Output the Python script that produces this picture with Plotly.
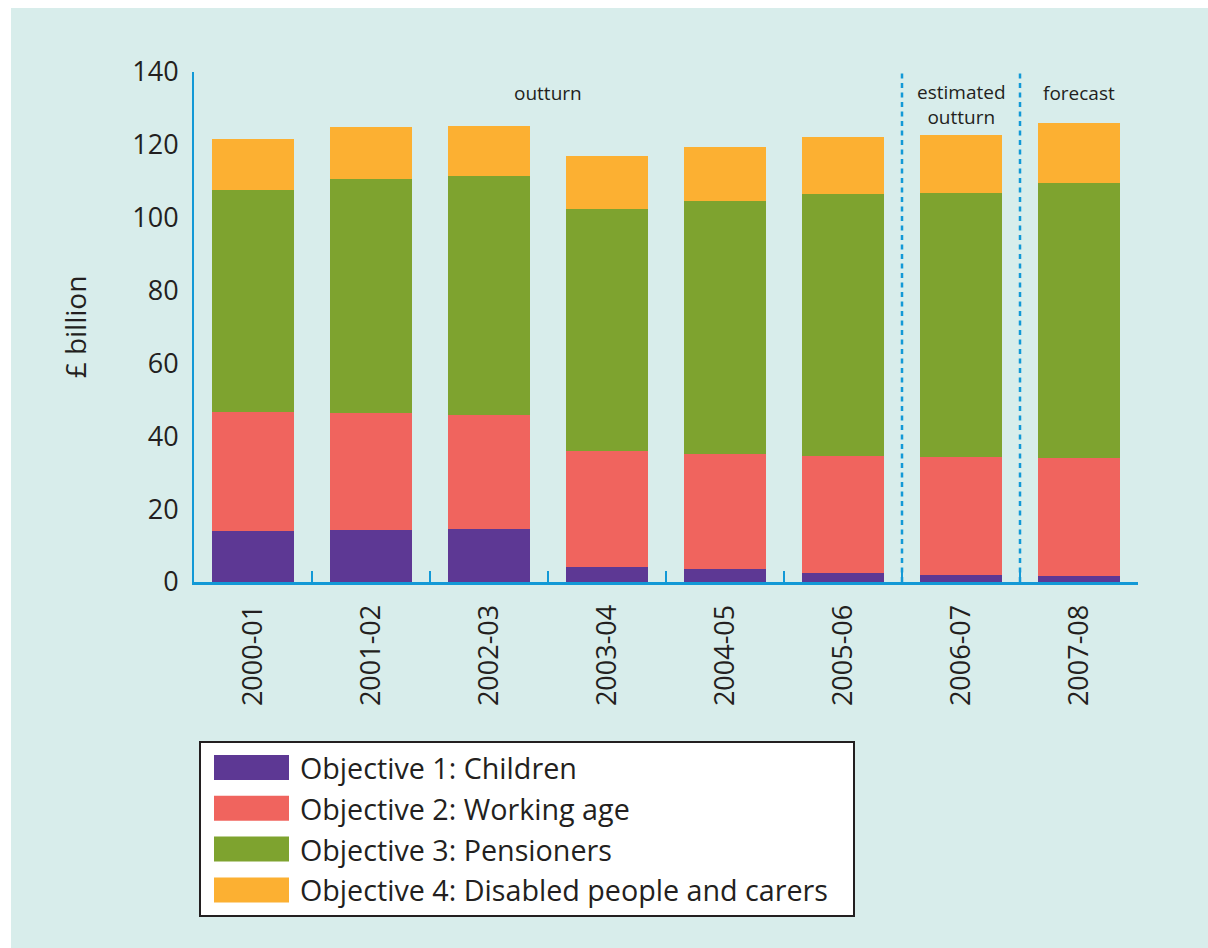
import plotly.graph_objects as go

# ---- data ----
years = ["2000-01", "2001-02", "2002-03", "2003-04", "2004-05", "2005-06", "2006-07", "2007-08"]
children = [14.0, 14.3, 14.5, 4.1, 3.6, 2.5, 1.9, 1.6]
working_age = [32.7, 32.2, 31.4, 31.9, 31.5, 32.1, 32.5, 32.4]
pensioners = [60.9, 64.1, 65.5, 66.4, 69.5, 71.9, 72.4, 75.5]
disabled = [14.0, 14.3, 13.8, 14.5, 14.8, 15.7, 15.9, 16.5]

series_names = [
    "Objective 1: Children",
    "Objective 2: Working age",
    "Objective 3: Pensioners",
    "Objective 4: Disabled people and carers",
]
series_values = [children, working_age, pensioners, disabled]
series_colors = ["#5d3894", "#f0645e", "#7ea32f", "#fcb032"]

y_ticks = [0, 20, 40, 60, 80, 100, 120, 140]
period_labels = ["outturn", "estimated<br>outturn", "forecast"]
period_label_pos = [2.5, 6, 7]          # category positions (index units)
divider_pos = [5.5, 6.5]

# ---- style ----
W, H = 1208, 948
ML, MR, MT, MB = 194, 70, 72, 366
PW, PH = W - ML - MR, H - MT - MB
BG = "#d8edeb"
BLUE = "#1299d6"
TXT = "#231f20"
FONT = "Open Sans"


def px_x(px):
    return (px - ML) / PW


def px_y(py):
    return (H - MB - py) / PH


fig = go.Figure()
for name, vals, col in zip(series_names, series_values, series_colors):
    fig.add_trace(go.Bar(x=years, y=vals, name=name, marker=dict(color=col, line=dict(width=0)),
                         showlegend=False))

shapes = []
# background panel
shapes.append(dict(type="rect", xref="paper", yref="paper", x0=px_x(11), x1=px_x(W + 5),
                   y0=px_y(H + 5), y1=px_y(8), fillcolor=BG, line=dict(width=0), layer="below"))
# dotted dividers
for xi in divider_pos:
    shapes.append(dict(type="line", xref="x", yref="y", x0=xi, x1=xi, y0=0, y1=140.5,
                       line=dict(color=BLUE, width=2.5, dash="5px,4.5px"), layer="above"))

annotations = []
for lab, xc in zip(period_labels, period_label_pos):
    n_lines = lab.count("<br>") + 1
    cy = 93 + 11 * (n_lines - 1)
    annotations.append(dict(x=xc, xref="x", y=px_y(cy), yref="paper",
                            text=lab, showarrow=False, yanchor="middle",
                            font=dict(family=FONT, size=19, color=TXT)))

# custom legend
shapes.append(dict(type="rect", xref="paper", yref="paper", x0=px_x(200), x1=px_x(854),
                   y0=px_y(916), y1=px_y(742), fillcolor="white",
                   line=dict(color="#231f20", width=2), layer="above"))
for i, (name, col) in enumerate(zip(series_names, series_colors)):
    cy = 767.5 + i * 40.8
    shapes.append(dict(type="rect", xref="paper", yref="paper", x0=px_x(214), x1=px_x(289),
                       y0=px_y(cy + 12.5), y1=px_y(cy - 12.5), fillcolor=col,
                       line=dict(width=0), layer="above"))
    annotations.append(dict(x=px_x(298), xref="paper", y=px_y(cy), yref="paper", text=name,
                            showarrow=False, xanchor="left", yanchor="middle",
                            font=dict(family=FONT, size=28.7, color=TXT)))

fig.update_layout(
    width=W, height=H, autosize=False,
    margin=dict(l=ML, r=MR, t=MT, b=MB, pad=0),
    paper_bgcolor="white", plot_bgcolor="rgba(0,0,0,0)",
    barmode="stack", bargap=0.3,
    font=dict(family=FONT, color=TXT),
    shapes=shapes, annotations=annotations,
    xaxis=dict(type="category", categoryorder="array", categoryarray=years,
               range=[-0.5, len(years) - 0.5],
               showline=True, linecolor=BLUE, linewidth=3,
               ticks="inside", tickson="boundaries", ticklen=11, tickwidth=2, tickcolor=BLUE,
               tickangle=-90, tickfont=dict(family=FONT, size=27, color=TXT),
               ticklabelstandoff=9, showgrid=False, zeroline=False, fixedrange=True),
    yaxis=dict(range=[0, 140], tickvals=y_ticks, showline=True, linecolor=BLUE, linewidth=2,
               ticks="", showgrid=False, zeroline=False,
               tickfont=dict(family=FONT, size=27, color=TXT), ticklabelstandoff=8,
               title=dict(text="£ billion", font=dict(family=FONT, size=28, color=TXT), standoff=37)),
)

fig.write_html("out.html")
